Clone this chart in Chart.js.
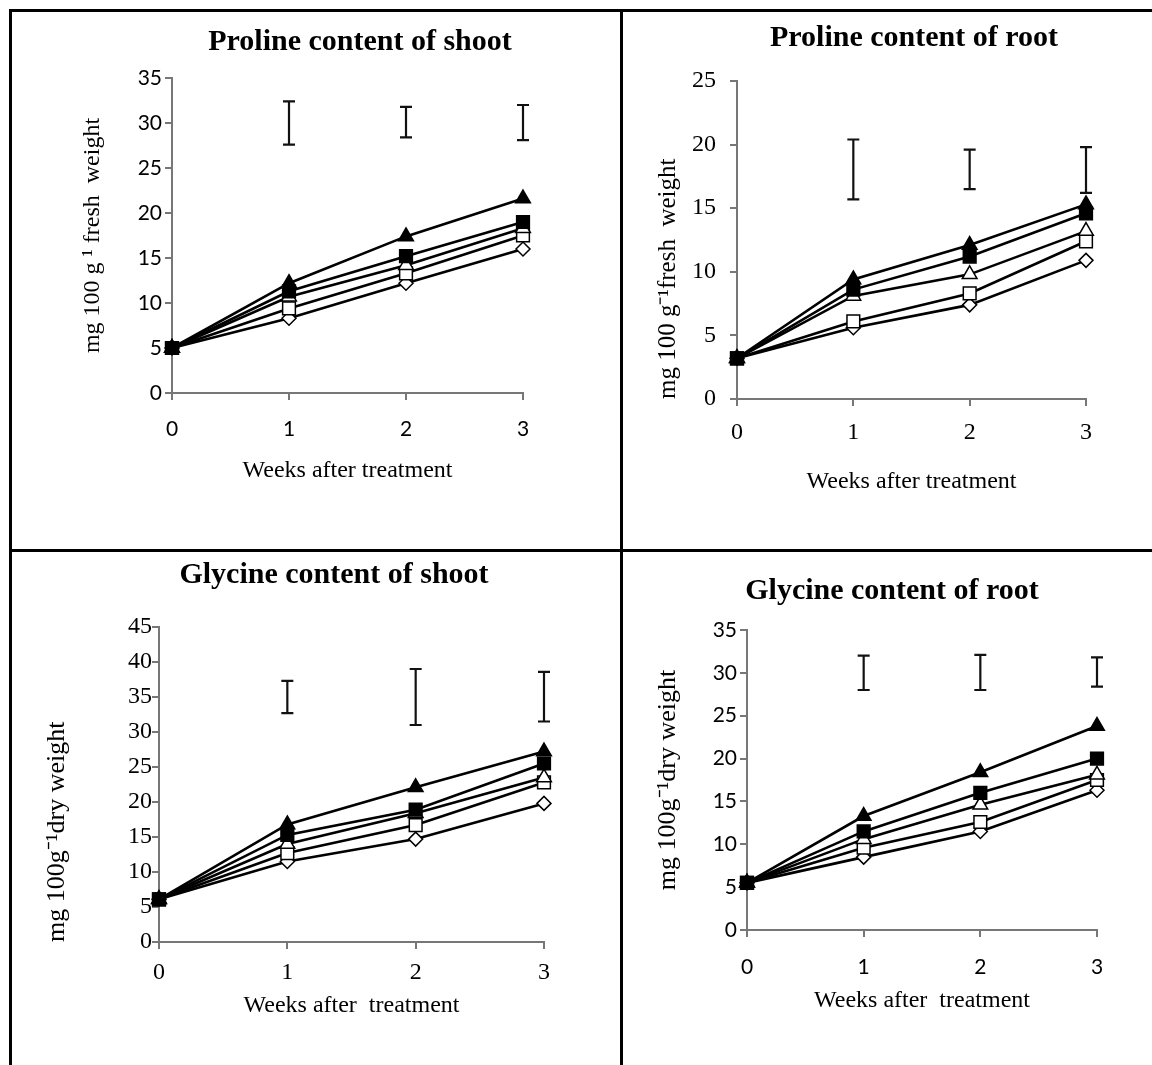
<!DOCTYPE html>
<html>
<head>
<meta charset="utf-8">
<title>Proline and glycine content</title>
<script src="https://cdn.jsdelivr.net/npm/chart.js@4.4.1/dist/chart.umd.min.js"></script>
<style>
  body { margin: 0; background: #fff; width: 1152px; height: 1065px; position: relative; overflow: hidden; }
  .rule { position: absolute; background: #000; }
  canvas { position: absolute; }
</style>
</head>
<body>
<!-- frame lines -->
<div class="rule" style="left:9px;top:9px;width:1143px;height:3px"></div>
<div class="rule" style="left:9px;top:9px;width:3px;height:1056px"></div>
<div class="rule" style="left:620px;top:9px;width:3px;height:1056px"></div>
<div class="rule" style="left:9px;top:549px;width:1143px;height:3px"></div>

<canvas id="c1" width="608" height="537" style="left:12px;top:12px"></canvas>
<canvas id="c2" width="529" height="537" style="left:623px;top:12px"></canvas>
<canvas id="c3" width="608" height="513" style="left:12px;top:552px"></canvas>
<canvas id="c4" width="529" height="513" style="left:623px;top:552px"></canvas>

<script>
// ===== data =====
const weeks = [0, 1, 2, 3];
const errWeeks = [1, 2, 3];

// Proline content of shoot
const psTriFill = [5.0, 12.2, 17.4, 21.6];
const psSqFill  = [5.0, 11.3, 15.2, 19.0];
const psTriOpen = [5.0, 10.7, 14.2, 18.3];
const psSqOpen  = [5.0, 9.4, 13.3, 17.5];
const psDiaOpen = [5.0, 8.3, 12.2, 16.0];
const psErrLow  = [27.6, 28.4, 28.1];
const psErrHigh = [32.4, 31.8, 32.0];
const psTicks = [0, 5, 10, 15, 20, 25, 30, 35];

// Proline content of root
const prTriFill = [3.2, 9.4, 12.1, 15.3];
const prSqFill  = [3.2, 8.6, 11.2, 14.6];
const prTriOpen = [3.2, 8.1, 9.8, 13.2];
const prSqOpen  = [3.2, 6.1, 8.3, 12.4];
const prDiaOpen = [3.2, 5.6, 7.4, 10.9];
const prErrLow  = [15.7, 16.5, 16.2];
const prErrHigh = [20.4, 19.6, 19.8];
const prTicks = [0, 5, 10, 15, 20, 25];

// Glycine content of shoot
const gsTriFill = [6.1, 16.8, 22.1, 27.2];
const gsSqFill  = [6.1, 15.3, 18.9, 25.5];
const gsTriOpen = [6.1, 14.0, 18.4, 23.5];
const gsSqOpen  = [6.1, 12.7, 16.7, 22.8];
const gsDiaOpen = [6.1, 11.5, 14.7, 19.8];
const gsErrLow  = [32.7, 31.0, 31.5];
const gsErrHigh = [37.3, 39.0, 38.6];
const gsTicks = [0, 5, 10, 15, 20, 25, 30, 35, 40, 45];

// Glycine content of root
const grTriFill = [5.5, 13.3, 18.4, 23.8];
const grSqFill  = [5.5, 11.5, 16.0, 20.0];
const grTriOpen = [5.5, 10.6, 14.6, 18.1];
const grSqOpen  = [5.5, 9.6, 12.6, 17.5];
const grDiaOpen = [5.5, 8.5, 11.5, 16.3];
const grErrLow  = [28.0, 28.0, 28.4];
const grErrHigh = [32.0, 32.1, 31.8];
const grTicks = [0, 5, 10, 15, 20, 25, 30, 35];

const SERIF = "'Liberation Serif', 'Times New Roman', serif";
const SANS = "Lato, 'Liberation Sans', sans-serif";

// I-beams (LSD bars) drawn through the chart scales
const errorBars = {
  id: 'errorBars',
  afterDatasetsDraw(chart, args, opts) {
    const { ctx, scales: { x, y } } = chart;
    ctx.save();
    ctx.strokeStyle = '#111';
    ctx.lineWidth = 2.2;
    opts.low.forEach((lo, i) => {
      const px = x.getPixelForValue(errWeeks[i]);
      const yLo = y.getPixelForValue(lo);
      const yHi = y.getPixelForValue(opts.high[i]);
      ctx.beginPath();
      ctx.moveTo(px, yLo); ctx.lineTo(px, yHi);
      ctx.moveTo(px - 6, yLo); ctx.lineTo(px + 6, yLo);
      ctx.moveTo(px - 6, yHi); ctx.lineTo(px + 6, yHi);
      ctx.stroke();
    });
    ctx.restore();
  }
};

// panel heading, placed like in the figure (not centred on the canvas)
const panelTitle = {
  id: 'panelTitle',
  afterDraw(chart, args, opts) {
    const ctx = chart.ctx;
    ctx.save();
    ctx.font = 'bold 30px ' + SERIF;
    ctx.fillStyle = '#000';
    ctx.textAlign = 'center';
    ctx.textBaseline = 'middle';
    ctx.fillText(opts.text, opts.x, opts.y);
    ctx.restore();
  }
};

function series(data, style, fill) {
  let r = 8.5;
  if (style === 'rect') r = 9;
  if (style === 'rectRot') r = 7;
  return {
    data: weeks.map((w, i) => ({ x: w, y: data[i] })),
    borderColor: '#000',
    borderWidth: 2.6,
    pointStyle: style,
    pointRadius: r,
    pointBackgroundColor: fill ? '#000' : '#fff',
    pointBorderColor: '#000',
    pointBorderWidth: 1.5,
    tension: 0,
    clip: false
  };
}

function makePanel(id, p) {
  new Chart(document.getElementById(id), {
    type: 'line',
    data: {
      datasets: [
        series(p.sqFill, 'rect', true),
        series(p.triFill, 'triangle', true),
        series(p.triOpen, 'triangle', false),
        series(p.sqOpen, 'rect', false),
        series(p.diaOpen, 'rectRot', false)
      ]
    },
    options: {
      responsive: false,
      devicePixelRatio: 1,
      animation: false,
      events: [],
      layout: { padding: { left: p.padL, right: p.padR, top: p.padT, bottom: p.padB } },
      plugins: {
        legend: { display: false },
        tooltip: { enabled: false },
        title: { display: false },
        panelTitle: { text: p.title, x: p.titleX, y: p.titleY },
        errorBars: { low: p.errLow, high: p.errHigh }
      },
      scales: {
        x: {
          type: 'linear',
          min: 0, max: 3,
          afterBuildTicks: s => { s.ticks = weeks.map(v => ({ value: v })); },
          afterFit: s => { s.height = p.xH; },
          border: { color: '#777', width: 2 },
          grid: { drawOnChartArea: false, drawTicks: true, tickLength: 7, color: '#777', lineWidth: 2 },
          ticks: { color: '#000', padding: p.xTickPad, font: { family: p.tickFont, size: p.tickSize } },
          title: {
            display: true, text: 'Weeks after ' + (p.twoSpaces ? ' ' : '') + 'treatment', color: '#000',
            font: { family: SERIF, size: 24 }, padding: { top: 0, bottom: 0 }
          }
        },
        y: {
          type: 'linear',
          min: 0, max: p.ticks[p.ticks.length - 1],
          afterBuildTicks: s => { s.ticks = p.ticks.map(v => ({ value: v })); },
          afterFit: s => { s.width = p.yW; },
          border: { color: '#777', width: 2 },
          grid: { drawOnChartArea: false, drawTicks: true, tickLength: 7, color: '#777', lineWidth: 2 },
          ticks: { color: '#000', padding: p.yTickPad, font: { family: p.tickFont, size: p.tickSize } },
          title: {
            display: true, text: p.yTitle, color: '#000', align: p.yTitleAlign || 'center',
            font: { family: SERIF, size: p.yTitleSize || 24 }, padding: { top: p.yTitlePad, bottom: 0 }
          }
        }
      }
    },
    plugins: [errorBars, panelTitle]
  });
}

document.addEventListener('DOMContentLoaded', function () {
  makePanel('c1', {
    title: 'Proline content of shoot', titleX: 348, titleY: 30, yTitle: 'mg 100 g \u00B9 fresh  weight',
    triFill: psTriFill, sqFill: psSqFill, triOpen: psTriOpen, sqOpen: psSqOpen, diaOpen: psDiaOpen,
    errLow: psErrLow, errHigh: psErrHigh, ticks: psTicks,
    padL: 0, padR: 97, padT: 66, padB: 64, yW: 160, xH: 92, yTitlePad: 66,
    xTickPad: 17, yTickPad: 3, tickFont: SANS, tickSize: 21
  });
  makePanel('c2', {
    title: 'Proline content of root', titleX: 291, titleY: 26, yTitle: 'mg 100 g\u207B\u00B9fresh  weight',
    triFill: prTriFill, sqFill: prSqFill, triOpen: prTriOpen, sqOpen: prSqOpen, diaOpen: prDiaOpen,
    errLow: prErrLow, errHigh: prErrHigh, ticks: prTicks,
    padL: 10, padR: 66, padT: 69, padB: 53, yW: 104, xH: 97, yTitlePad: 20,
    yTitleAlign: 'start', yTitleSize: 25,
    xTickPad: 12, yTickPad: 14, tickFont: SERIF, tickSize: 24
  });
  makePanel('c3', {
    title: 'Glycine content of shoot', titleX: 322, titleY: 23, yTitle: 'mg 100g\u207B\u00B9dry weight', twoSpaces: true,
    triFill: gsTriFill, sqFill: gsSqFill, triOpen: gsTriOpen, sqOpen: gsSqOpen, diaOpen: gsDiaOpen,
    errLow: gsErrLow, errHigh: gsErrHigh, ticks: gsTicks,
    padL: 0, padR: 76, padT: 75, padB: 45, yW: 147, xH: 78, yTitlePad: 30,
    yTitleAlign: 'start', yTitleSize: 26,
    xTickPad: 9, yTickPad: 0, tickFont: SERIF, tickSize: 24
  });
  makePanel('c4', {
    title: 'Glycine content of root', titleX: 269, titleY: 39, yTitle: 'mg 100g\u207B\u00B9dry weight', twoSpaces: true,
    triFill: grTriFill, sqFill: grSqFill, triOpen: grTriOpen, sqOpen: grSqOpen, diaOpen: grDiaOpen,
    errLow: grErrLow, errHigh: grErrHigh, ticks: grTicks,
    padL: 10, padR: 55, padT: 78, padB: 50, yW: 114, xH: 85, yTitlePad: 20, yTitleSize: 26,
    xTickPad: 18, yTickPad: 3, tickFont: SANS, tickSize: 21
  });
});
</script>
</body>
</html>
